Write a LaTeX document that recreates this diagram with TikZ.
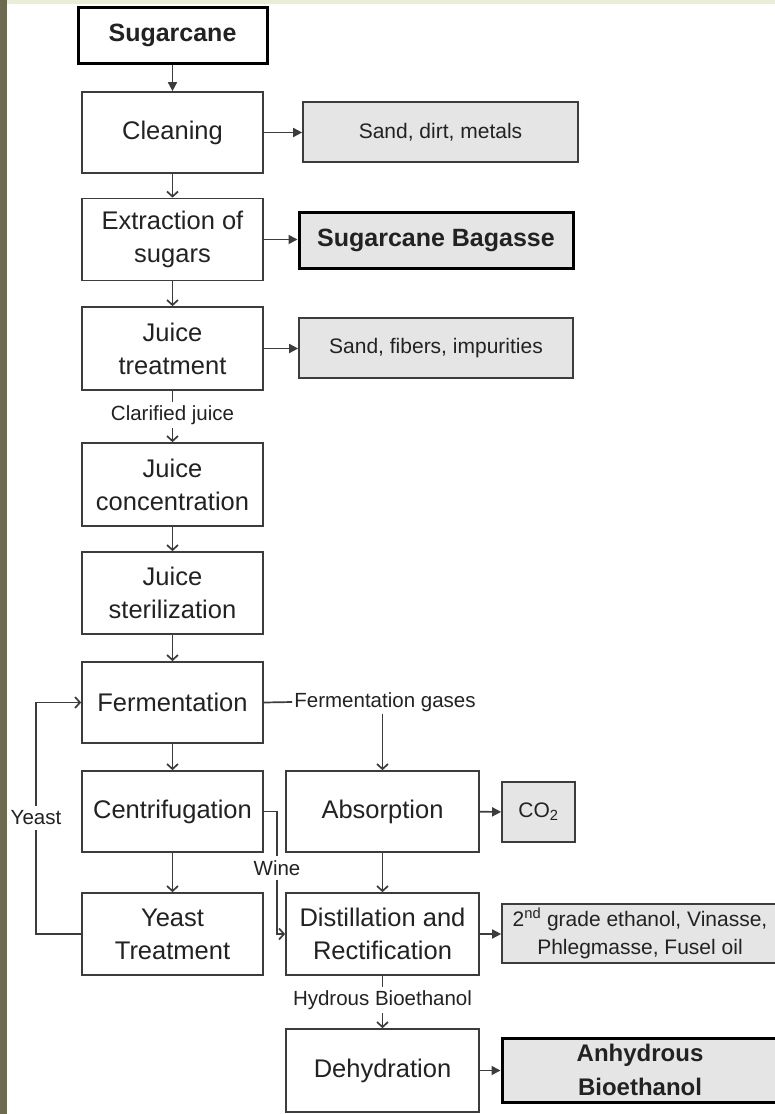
\documentclass[tikz,border=0pt]{standalone}
\usepackage{fontspec}
\setmainfont{Liberation Sans}
\usetikzlibrary{arrows.meta,calc}
\definecolor{linegray}{HTML}{3C3C3C}
\definecolor{textgray}{HTML}{222222}
\definecolor{boxfill}{HTML}{E5E5E5}
\definecolor{stripolive}{HTML}{6E6A4F}
\definecolor{bandpale}{HTML}{EAEDD8}
\begin{document}
\begin{tikzpicture}[x=1pt,y=-1pt,
  every node/.style={text=textgray,align=center},
  procbox/.style={draw=linegray,line width=1.7pt,fill=white,minimum width=181pt,minimum height=82pt,inner sep=0pt,font=\fontsize{25.5}{33}\selectfont},
  widebox/.style={procbox,minimum width=193pt},
  outbox/.style={draw=linegray,line width=1.7pt,fill=boxfill,inner sep=0pt,minimum height=60pt,font=\fontsize{21}{28}\selectfont},
  keybox/.style={draw=black,line width=3pt,inner sep=0pt,font=\bfseries\fontsize{25}{35}\selectfont},
  flowlabel/.style={inner sep=3pt,font=\fontsize{20.5}{24}\selectfont},
  conn/.style={draw=linegray,line width=1.7pt},
  openarrow/.style={conn,-{Straight Barb[length=5pt,width=11pt]}},
  fillarrow/.style={conn,-{Triangle[length=9pt,width=9pt]}}]

% page frame
\useasboundingbox (0,0) rectangle (775,1114);
\fill[white] (0,0) rectangle (775,1114);
\fill[bandpale] (7,0) rectangle (775,4);
\fill[stripolive] (0,0) rectangle (7,1114);

% main column
\node[keybox,fill=white,minimum width=189pt,minimum height=56pt] (cane) at (172.5,35.5) {Sugarcane};
\node[procbox,minimum height=81pt] (clean) at (172.5,132.5) {Cleaning};
\node[procbox] (extract) at (172.5,239.5) {Extraction of\\sugars};
\node[procbox,minimum height=83pt] (treat) at (172.5,348.5) {Juice\\treatment};
\node[procbox,minimum height=83pt] (conc) at (172.5,484.5) {Juice\\concentration};
\node[procbox] (steril) at (172.5,593) {Juice\\sterilization};
\node[procbox,minimum height=81pt] (ferm) at (172.5,702.5) {Fermentation};
\node[procbox,minimum height=81pt] (centri) at (172.5,811.5) {Centrifugation};
\node[procbox] (yeastt) at (172.5,934) {Yeast\\Treatment};

% second column
\node[widebox,minimum height=81pt] (absorb) at (382.5,811.5) {Absorption};
\node[widebox] (distil) at (382.5,934) {Distillation and\\Rectification};
\node[widebox,minimum height=83pt] (dehyd) at (382.5,1070.5) {Dehydration};

% by-products and products
\node[outbox,minimum width=275pt] (sdm) at (440.5,132) {Sand, dirt, metals};
\node[keybox,fill=boxfill,minimum width=274pt,minimum height=56pt] (bagasse) at (436,240) {Sugarcane Bagasse};
\node[outbox,minimum width=274pt] (sfi) at (436,348) {Sand, fibers, impurities};
\node[outbox,minimum width=73pt] (co2) at (538.5,812) {CO\textsubscript{2}};
\node[outbox,minimum width=276pt,minimum height=59pt] (grade) at (640,933.5) {2\textsuperscript{nd} grade ethanol, Vinasse,\\Phlegmasse, Fusel oil};
\node[keybox,fill=boxfill,minimum width=276pt,minimum height=64pt,font=\bfseries\fontsize{24}{34}\selectfont] (anhyd) at (640,1070) {Anhydrous\\Bioethanol};

% stream labels
\node[flowlabel] (clar) at (172.5,415) {Clarified juice};
\node[flowlabel,inner sep=2pt] (gases) at (385,702) {Fermentation gases};
\node[flowlabel,inner sep=5pt] (yeast) at (36,818) {Yeast};
\node[flowlabel,inner sep=4pt] (wine) at (277,868) {Wine};
\node[flowlabel] (hydrous) at (382.5,1000) {Hydrous Bioethanol};

% main flow
\draw[fillarrow] (cane) -- (clean);
\draw[openarrow] (clean) -- (extract);
\draw[openarrow] (extract) -- (treat);
\draw[conn] (treat) -- (clar);
\draw[openarrow] (clar) -- (conc);
\draw[openarrow] (conc) -- (steril);
\draw[openarrow] (steril) -- (ferm);
\draw[openarrow] (ferm) -- (centri);
\draw[openarrow] (centri) -- (yeastt);

% side streams
\draw[fillarrow] (clean) -- (sdm.west |- clean);
\draw[fillarrow] (extract) -- (bagasse.west |- extract);
\draw[fillarrow] (treat) -- (sfi.west |- treat);

% gases and recycling
\draw[conn] (ferm.east) -- (gases.west);
\draw[openarrow] (gases.south -| absorb.north) -- (absorb.north);
\draw[fillarrow] (absorb) -- (co2);
\draw[openarrow] (absorb) -- (distil);
\draw[conn] (yeastt.west) -| (yeast.south);
\draw[openarrow] (yeast.north) |- (ferm.west);
\draw[conn] (centri.east) -| (wine.north);
\draw[openarrow] (wine.south) |- (distil.west);

% purification
\draw[fillarrow] (distil) -- (grade.west |- distil);
\draw[conn] (distil) -- (hydrous);
\draw[openarrow] (hydrous) -- (dehyd);
\draw[fillarrow] (dehyd) -- (anhyd.west |- dehyd);
\end{tikzpicture}
\end{document}
